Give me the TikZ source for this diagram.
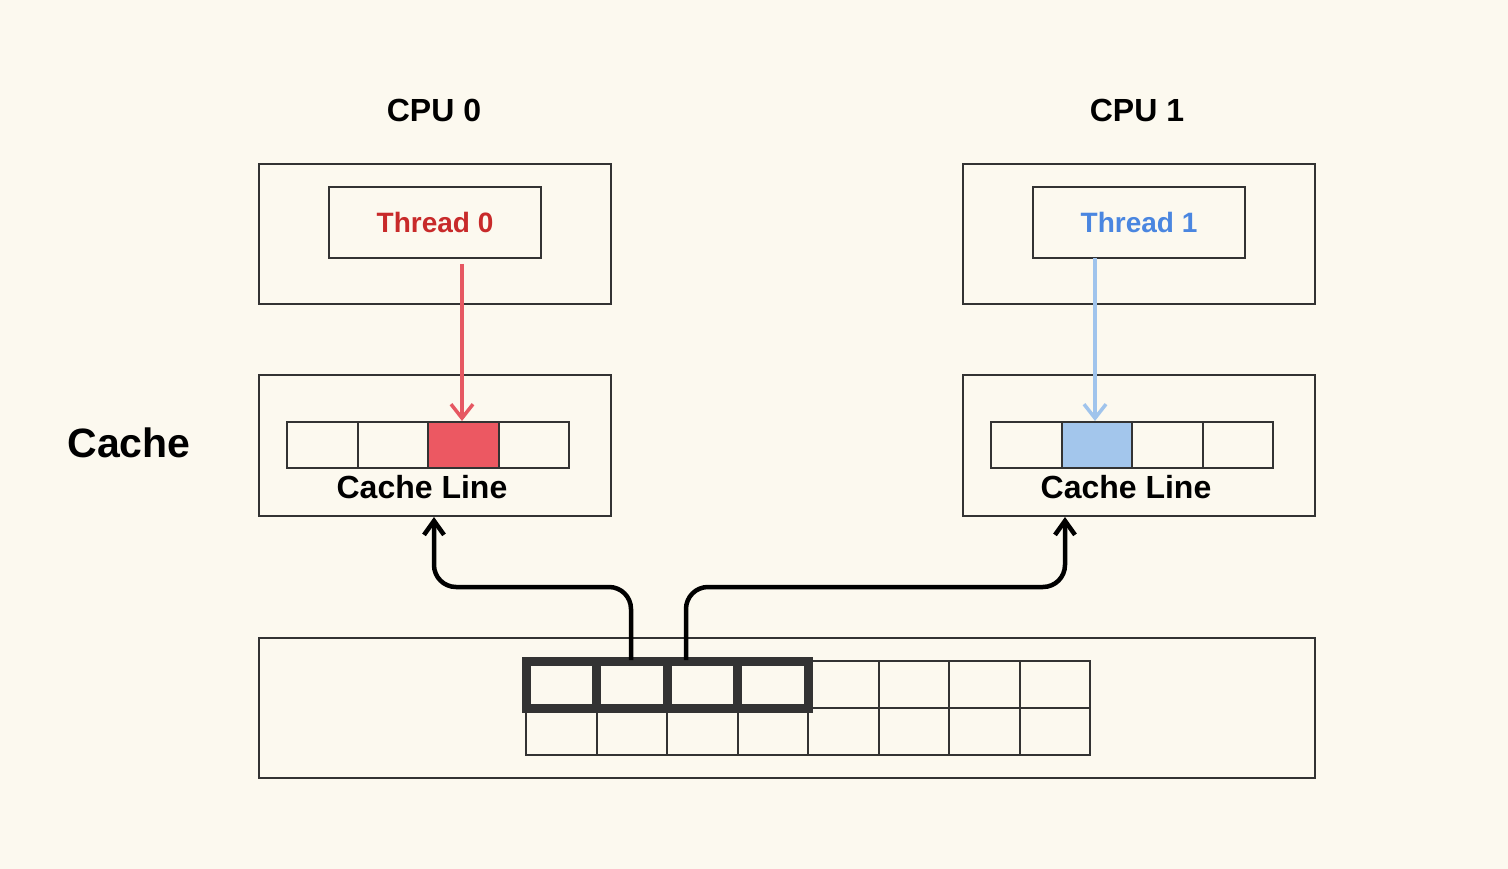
\documentclass[tikz,border=0pt]{standalone}
\usepackage{fontspec}
\setmainfont{Liberation Sans}
\usetikzlibrary{arrows.meta}
\definecolor{paper}{RGB}{252,249,239}
\definecolor{ink}{RGB}{51,51,51}
\definecolor{thredA}{RGB}{200,42,42}
\definecolor{thblueA}{RGB}{74,134,224}
\definecolor{fillred}{RGB}{236,88,98}
\definecolor{fillblue}{RGB}{163,198,236}
\definecolor{arrred}{RGB}{230,88,98}
\definecolor{arrblue}{RGB}{160,196,236}
\tikzset{
  box/.style={draw=ink, line width=2pt, inner sep=0pt, outer sep=0pt},
  cell/.style={draw=ink, line width=2pt, inner sep=0pt, outer sep=0pt,
    minimum width=70.5pt, minimum height=46pt},
  memcell/.style={draw=ink, line width=2pt, inner sep=0pt, outer sep=0pt,
    minimum width=70.5pt, minimum height=47pt},
  hot/.style={draw=ink, line width=9pt, inner sep=0pt, outer sep=0pt,
    minimum width=70.5pt, minimum height=47pt, miter limit=10},
  title/.style={font=\fontsize{32}{38}\selectfont\bfseries, text=black},
  bus/.style={line width=4.5pt, draw=black, rounded corners=22pt,
    -{Straight Barb[length=14pt,width=20pt]}},
  access/.style={line width=3.5pt, -{Straight Barb[length=14pt,width=22pt]}},
}
\begin{document}
\begin{tikzpicture}[x=1pt,y=-1pt]
\useasboundingbox[fill=paper] (0,0) rectangle (1508,869);

% processors
\node[title] (cpu0lbl) at (434,110) {CPU 0};
\node[title] (cpu1lbl) at (1137,110) {CPU 1};
\node[box, minimum width=352pt, minimum height=140pt] (cpu0) at (435,234) {};
\node[box, minimum width=352pt, minimum height=140pt] (cpu1) at (1139,234) {};
\node[box, minimum width=212pt, minimum height=71pt, text=thredA,
  font=\fontsize{28}{34}\selectfont\bfseries] (th0) at (435,222.5) {Thread 0};
\node[box, minimum width=212pt, minimum height=71pt, text=thblueA,
  font=\fontsize{28}{34}\selectfont\bfseries] (th1) at (1139,222.5) {Thread 1};

% caches
\node[font=\fontsize{41}{48}\selectfont\bfseries] (cachelbl) at (129,443) {Cache};
\node[box, minimum width=352pt, minimum height=141pt] (cache0) at (435,445.5) {};
\node[box, minimum width=352pt, minimum height=141pt] (cache1) at (1139,445.5) {};
\foreach \i in {1,...,4} {
  \node[cell] (a\i) at ({322.25+70.5*(\i-1)},445) {};
  \node[cell] (b\i) at ({1026.25+70.5*(\i-1)},445) {};
}
\node[cell, fill=fillred] (a3) at (463.25,445) {};
\node[cell, fill=fillblue] (b2) at (1096.75,445) {};
\node[font=\fontsize{32}{38}\selectfont\bfseries] (cl0) at (422,487) {Cache Line};
\node[font=\fontsize{32}{38}\selectfont\bfseries] (cl1) at (1126,487) {Cache Line};

% memory
\node[box, minimum width=1056pt, minimum height=140pt] (mem) at (787,708) {};
\foreach \i in {1,...,8} {
  \node[memcell] (g1\i) at ({561.25+70.5*(\i-1)},684.5) {};
  \node[memcell] (g2\i) at ({561.25+70.5*(\i-1)},731.5) {};
}
\foreach \i in {1,...,4} {
  \node[hot] (h\i) at (g1\i) {};
}

% thread accesses
\draw[arrred, access]
  ([yshift=-6pt]th0.south -| 462,0) -- ([yshift=1pt]a3.north -| 462,0);
\draw[arrblue, access]
  (th1.south -| 1095,0) -- ([yshift=1pt]b2.north -| 1095,0);

% cache line fills from memory
\coordinate (srcA) at (631,660);
\coordinate (srcB) at (686,660);
\draw[bus] (srcA) -- (631,587) -- (434,587) -- ([yshift=-1pt]cache0.south -| 434,0);
\draw[bus] (srcB) -- (686,587) -- (1065,587) -- ([yshift=-1pt]cache1.south -| 1065,0);
\end{tikzpicture}
\end{document}
